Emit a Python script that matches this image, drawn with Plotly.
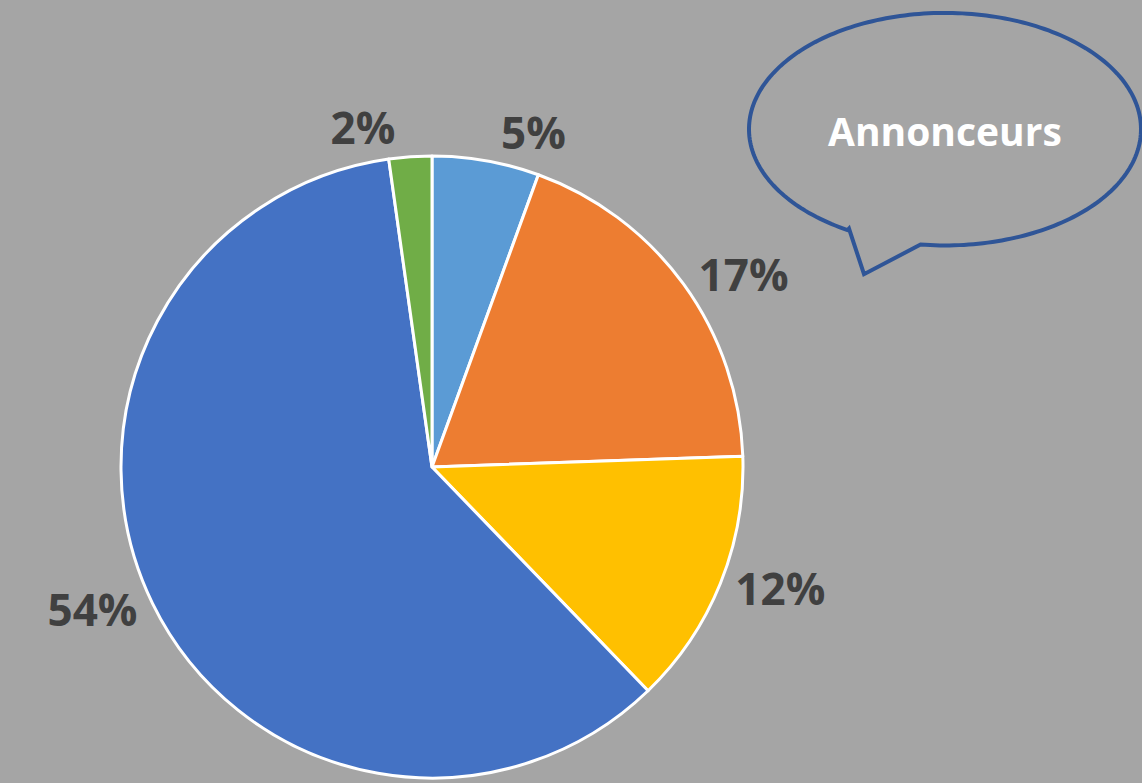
import numpy as np
import plotly.graph_objects as go

W, H = 1142, 783

categories = ["A", "B", "C", "D", "E"]
values = [5, 17, 12, 54, 2]
labels_txt = ["5%", "17%", "12%", "54%", "2%"]
colors = ["#5B9BD5", "#ED7D31", "#FFC000", "#4472C4", "#70AD47"]
bubble_text = "Annonceurs"

fig = go.Figure()
fig.add_trace(go.Pie(
    labels=categories, values=values, text=labels_txt,
    textinfo="text", textposition="outside",
    sort=False, direction="clockwise", rotation=0,
    marker=dict(colors=colors, line=dict(color="white", width=3)),
    textfont=dict(family="Open Sans", size=44, color="#404040", weight="bold"),
    domain=dict(x=[115 / W, 749 / W], y=[0, 1 - 157 / H]),
    showlegend=False, hoverinfo="skip",
))

# speech bubble
cx, cy, rx, ry = 945, 130, 196, 117
def ang_of(px, py):
    return np.arctan2((py - cy) / ry, (px - cx) / rx)
a0 = ang_of(849, 230)
a1 = ang_of(921, 244)
while a1 <= a0:
    a1 += 2 * np.pi
ts = np.linspace(a0, a1, 240)
pts = [(cx + rx * np.cos(t), cy + ry * np.sin(t)) for t in ts]
pts += [(864, 276), (849, 230)]
def P(x, y):
    return f"{x / W:.5f},{1 - y / H:.5f}"
path = "M " + " L ".join(P(x, y) for x, y in pts) + " Z"
fig.add_shape(type="path", path=path, xref="paper", yref="paper",
              line=dict(color="#2F5597", width=4), fillcolor="rgba(0,0,0,0)")
fig.add_annotation(x=cx / W, y=1 - 131 / H, xref="paper", yref="paper",
                   xanchor="center", yanchor="middle",
                   text=bubble_text, showarrow=False,
                   font=dict(family="Open Sans", size=39, color="white", weight="bold"))

fig.update_layout(width=W, height=H, margin=dict(l=0, r=0, t=0, b=0),
                  paper_bgcolor="#A5A5A5", plot_bgcolor="#A5A5A5")
fig.write_html("out.html")
